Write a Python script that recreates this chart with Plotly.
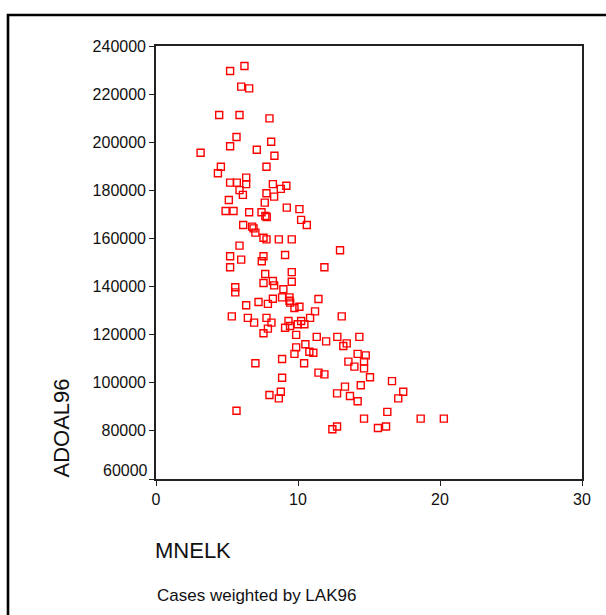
import plotly.graph_objects as go

# MNELK (x) and ADOAL96 (y) for each case
mnelk = [
    5.22, 6.23, 6.00, 6.56, 4.45, 5.88, 7.99, 5.67, 5.22, 8.11,
    7.10, 8.34, 3.14, 4.57, 4.36, 7.78, 6.35, 5.22, 5.69, 6.35,
    8.23, 9.18, 5.88, 6.12, 7.78, 8.32, 8.79, 5.13, 7.66, 9.21,
    10.10, 4.90, 5.46, 6.56, 7.43, 7.70, 7.80, 10.22, 10.62, 6.14,
    6.77, 6.87, 7.00, 7.57, 7.78, 8.65, 9.56, 5.88, 5.22, 6.00,
    7.57, 7.45, 9.09, 5.22, 7.69, 9.56, 7.57, 8.23, 8.32, 9.56,
    5.58, 5.58, 8.97, 6.35, 7.22, 7.88, 8.23, 8.88, 9.40, 9.40,
    9.45, 9.75, 10.10, 5.34, 6.47, 6.91, 7.78, 8.13, 9.33, 9.98,
    10.22, 10.45, 10.85, 7.88, 9.09, 9.44, 7.57, 9.87, 9.87, 10.52,
    9.75, 10.80, 10.43, 7.00, 8.88, 8.88, 8.79, 7.99, 8.65, 5.67,
    12.96, 11.86, 11.44, 11.20, 13.08, 11.32, 12.77, 14.32, 11.98, 13.43,
    13.19, 11.08, 14.20, 14.77, 13.55, 13.97, 14.65, 14.65, 15.07, 16.62,
    11.44, 11.86, 13.31, 14.42, 12.75, 13.66, 14.20, 17.41, 17.06, 16.29,
    14.65, 18.64, 20.27, 12.42, 12.75, 15.63, 16.20,
]
adoal96 = [
    229600, 231700, 223100, 222400, 211300, 211300, 209900, 202200, 198300, 200200,
    196900, 194400, 195600, 189800, 187100, 189800, 185300, 183200, 183200, 182600,
    182600, 181900, 180100, 178100, 178800, 177400, 180600, 176000, 174900, 172800,
    172200, 171400, 171400, 170900, 170900, 169300, 168900, 167700, 165600, 165600,
    164900, 164200, 162400, 160300, 159600, 159600, 159600, 157000, 152600, 151200,
    152600, 150500, 153100, 148000, 145200, 146000, 141500, 142300, 140500, 142000,
    139700, 137600, 138900, 132200, 133600, 132800, 134900, 135500, 135500, 134100,
    133300, 131100, 131600, 127600, 127000, 125000, 127000, 125000, 125700, 124300,
    125700, 124300, 127000, 122500, 122900, 123600, 120600, 119900, 114700, 116000,
    112000, 112900, 108100, 108100, 109900, 102100, 96300, 94900, 93500, 88400,
    155100, 148000, 134800, 129700, 127600, 119100, 119100, 119100, 117200, 116400,
    115300, 112500, 112000, 111400, 108800, 106700, 108800, 106000, 102300, 100700,
    104200, 103500, 98400, 99000, 95600, 94500, 92300, 96300, 93500, 87900,
    85100, 85100, 85100, 80700, 81800, 81200, 81800,
]

x_ticks = [0, 10, 20, 30]
y_ticks = [60000, 80000, 100000, 120000, 140000, 160000, 180000, 200000, 220000, 240000]

FONT = "Liberation Sans, Arial, sans-serif"

fig = go.Figure()
fig.add_trace(go.Scatter(
    x=mnelk, y=adoal96, mode="markers",
    marker=dict(symbol="square-open", size=7, color="#ff0000",
                line=dict(width=1.4, color="#ff0000")),
    hoverinfo="x+y", showlegend=False,
))

axis_common = dict(
    showgrid=False, zeroline=False, showline=True, mirror=True,
    linecolor="#222222", linewidth=1.6, ticks="outside", ticklen=5,
    tickwidth=1.4, tickcolor="#222222",
    tickfont=dict(family=FONT, size=16, color="#111111"),
)

fig.update_xaxes(range=[0, 30], tickvals=x_ticks,
                 ticktext=[str(v) for v in x_ticks], **axis_common)
# the lowest y label sits slightly above its tick, so it is placed separately
fig.update_yaxes(range=[60000, 240000], tickvals=y_ticks,
                 ticktext=["" if v == y_ticks[0] else str(v) for v in y_ticks],
                 **axis_common)

annotations = [
    dict(text=str(y_ticks[0]), x=0, xref="paper", y=y_ticks[0], yref="y",
         xanchor="right", yanchor="middle", xshift=-6, yshift=9, showarrow=False,
         font=dict(family=FONT, size=16, color="#111111")),
    dict(text="ADOAL96", textangle=-90, x=-0.2207, xref="paper", y=0, yref="paper",
         xanchor="center", yanchor="bottom", showarrow=False,
         font=dict(family=FONT, size=22, color="#111111")),
    dict(text="MNELK", x=-0.006, xref="paper", y=-0.166, yref="paper",
         xanchor="left", yanchor="middle", showarrow=False,
         font=dict(family=FONT, size=22, color="#111111")),
    dict(text="Cases weighted by LAK96", x=-0.002, xref="paper", y=-0.268, yref="paper",
         xanchor="left", yanchor="middle", showarrow=False,
         font=dict(family=FONT, size=17, color="#111111")),
]

fig.update_layout(
    width=606, height=615, autosize=False,
    margin=dict(l=156, r=24, t=46, b=136),
    paper_bgcolor="white", plot_bgcolor="white",
    annotations=annotations,
    shapes=[dict(type="rect", xref="paper", yref="paper",
                 x0=-0.3474, x1=1.10, y0=-0.35, y1=1.0716,
                 line=dict(color="black", width=2.6), fillcolor="rgba(0,0,0,0)",
                 layer="below")],
)

fig.write_html("out.html")
